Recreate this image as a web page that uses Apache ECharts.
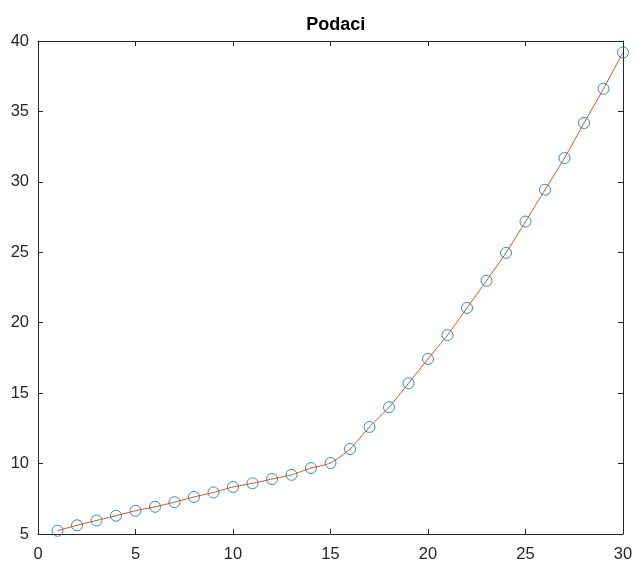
<!DOCTYPE html>
<html>
<head>
<meta charset="utf-8">
<script src="https://cdn.jsdelivr.net/npm/echarts@6/dist/echarts.min.js"></script>
<style>html,body{margin:0;padding:0;background:#fff;}#c{width:636px;height:565px;}</style>
</head>
<body>
<div id="c"></div>
<script>
const xValues = [1,2,3,4,5,6,7,8,9,10,11,12,13,14,15,16,17,18,19,20,21,22,23,24,25,26,27,28,29,30];
const yValues = [5.23,5.62,5.96,6.3,6.65,6.93,7.26,7.63,7.95,8.34,8.6,8.9,9.2,9.68,10.04,11.03,12.6,14.0,15.7,17.43,19.12,21.05,22.98,24.96,27.18,29.44,31.69,34.18,36.61,39.19];
const titleText = 'Podaci';

const pts = xValues.map((x, i) => [x, yValues[i]]);
const axisColor = '#262626';
const font = 'Liberation Sans, Arial, sans-serif';

const chart = echarts.init(document.getElementById('c'), null, {renderer: 'canvas'});
const baseAxis = {
  axisLine: {show: true, onZero: false, lineStyle: {color: axisColor, width: 1}},
  axisTick: {show: true, inside: true, length: 5, lineStyle: {color: axisColor}},
  splitLine: {show: false}
};
chart.setOption({
  animation: false,
  backgroundColor: '#fff',
  title: {
    text: titleText, left: 330.8, top: 11, textAlign: 'center',
    textStyle: {fontFamily: font, fontSize: 18, fontWeight: 'bold', color: '#000'}
  },
  grid: {left: 38, top: 41, width: 585, height: 493, containLabel: false},
  xAxis: [
    Object.assign({}, baseAxis, {type: 'value', min: 0, max: 30, interval: 5, position: 'bottom',
      axisLabel: {color: axisColor, fontFamily: font, fontSize: 16.5, margin: 12}}),
    Object.assign({}, baseAxis, {type: 'value', min: 0, max: 30, interval: 5, position: 'top',
      axisLabel: {show: false}})
  ],
  yAxis: [
    Object.assign({}, baseAxis, {type: 'value', min: 5, max: 40, interval: 5, position: 'left',
      axisLabel: {color: axisColor, fontFamily: font, fontSize: 16.5, margin: 9, padding: [3, 0, 0, 0]}}),
    Object.assign({}, baseAxis, {type: 'value', min: 5, max: 40, interval: 5, position: 'right',
      axisLabel: {show: false}})
  ],
  series: [
    {
      type: 'line', data: pts, smooth: 0.2, showSymbol: false, symbol: 'none',
      lineStyle: {color: '#D95319', width: 1}, z: 2
    },
    {
      type: 'scatter', data: pts, symbol: 'circle', symbolSize: 11,
      itemStyle: {color: 'rgba(0,0,0,0)', borderColor: '#0072BD', borderWidth: 1}, z: 3
    }
  ]
});
</script>
</body>
</html>
